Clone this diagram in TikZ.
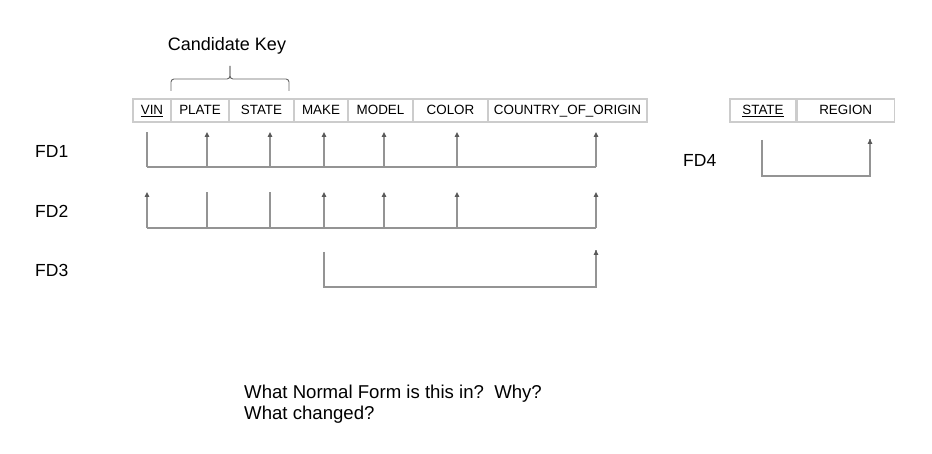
\documentclass[tikz,border=0pt]{standalone}
\usepackage{fontspec}
\setmainfont{Liberation Sans}
\usetikzlibrary{arrows.meta, positioning}

\begin{document}
\begin{tikzpicture}[x=1pt,y=-1pt]
    \tikzstyle{cell}=[draw=black!20, line width=1.2pt, minimum height=23pt, inner sep=0pt, text height=10.8pt, text depth=1.8pt, font=\fontsize{13.4}{16}\selectfont]
    \tikzstyle{fdline}=[draw=black!42, line width=1.3pt]
    \tikzstyle{det}=[fdline]
    \tikzstyle{dep}=[fdline, -{Triangle[length=5pt,width=4.5pt,color=black!65]}]
    \tikzstyle{fdlabel}=[anchor=base west, inner sep=0pt, font=\fontsize{17.5}{21}\selectfont]

    \useasboundingbox (0,0) rectangle (932,454);

    % The relation
    \foreach \name / \xa / \xb / \txt in {VIN/133/171/{\underline{VIN}}, PLATE/171/229/PLATE,
        STATE/229/294/STATE, MAKE/294/348/MAKE, MODEL/348/413/MODEL,
        COLOR/413/488/COLOR, COUNTRY/488/647/COUNTRY\_OF\_ORIGIN}
        \node[cell, minimum width=\xb-\xa] (\name) at ({(\xa+\xb)/2},110.5) {\txt};

    % The second relation
    \node[cell, minimum width=66] (STATE2) at (763,110.5) {\underline{STATE}};
    \node[cell, minimum width=97, right=0pt of STATE2] (REGION) {REGION};

    % Candidate key brace
    \node[anchor=base, inner sep=0pt, font=\fontsize{18}{21}\selectfont] (ckey) at (227,51) {Candidate Key};
    \coordinate (brace-l) at (171,91);
    \coordinate (brace-r) at (289,91);
    \coordinate (brace-tip) at (230,66);
    \draw[draw=black!60, line width=0.9pt, rounded corners=3pt] (brace-l) |- (230,79) -- (brace-tip);
    \draw[draw=black!60, line width=0.9pt, rounded corners=3pt] (brace-r) |- (230,79) -- (brace-tip);

    % FD1
    \node[fdlabel] (fd1) at (35,158) {FD1};
    \foreach \x / \s in {147/det, 207/dep, 270/dep, 324/dep, 384/dep, 457/dep, 596/dep} {
        \coordinate (fd1-top-\x) at (\x,132);
        \coordinate (fd1-bot-\x) at (\x,167);
        \draw[\s] (fd1-bot-\x) -- (fd1-top-\x);
    }
    \draw[fdline] (fd1-bot-147) -- (fd1-bot-596);

    % FD2
    \node[fdlabel] (fd2) at (35,218) {FD2};
    \foreach \x / \s in {147/dep, 207/det, 270/det, 324/dep, 384/dep, 457/dep, 596/dep} {
        \coordinate (fd2-top-\x) at (\x,192);
        \coordinate (fd2-bot-\x) at (\x,228);
        \draw[\s] (fd2-bot-\x) -- (fd2-top-\x);
    }
    \draw[fdline] (fd2-bot-147) -- (fd2-bot-596);

    % FD3
    \node[fdlabel] (fd3) at (35,277) {FD3};
    \coordinate (fd3-top-324) at (324,252);
    \coordinate (fd3-top-596) at (596,250);
    \draw[det] (fd3-top-324) |- (fd3-top-596 |- 0,287) -- (fd3-top-596);
    \draw[dep] (fd3-top-596 |- 0,280) -- (fd3-top-596);

    % FD4
    \node[fdlabel] (fd4) at (683,167) {FD4};
    \coordinate (fd4-top-762) at (762,140);
    \coordinate (fd4-top-870) at (870,139);
    \draw[det] (fd4-top-762) |- (fd4-top-870 |- 0,176) -- (fd4-top-870);
    \draw[dep] (fd4-top-870 |- 0,170) -- (fd4-top-870);

    % Question
    \node[fdlabel, font=\fontsize{18.6}{21}\selectfont] (q1) at (244,398) {What Normal Form is this in?\ \ Why?};
    \node[fdlabel, font=\fontsize{18.6}{21}\selectfont] (q2) at (244,419) {What changed?};

\end{tikzpicture}
\end{document}
